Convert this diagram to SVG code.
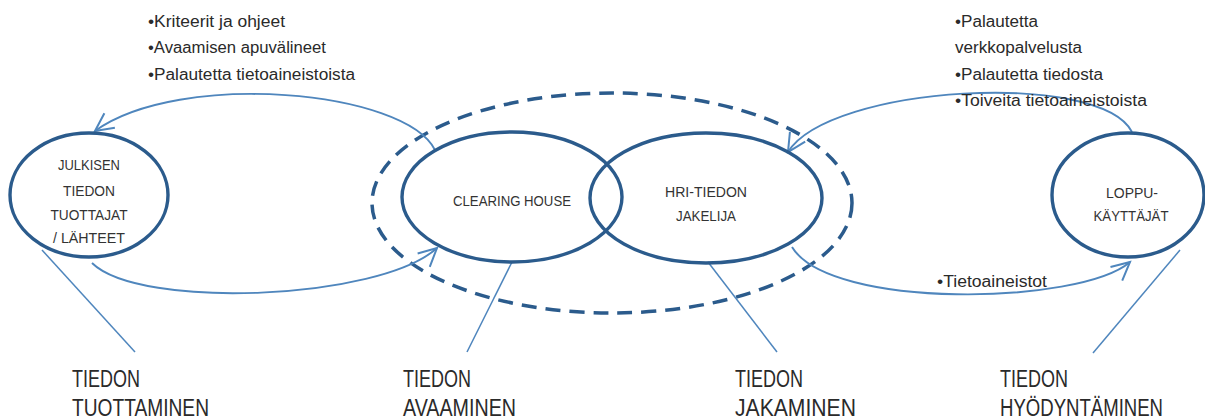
<svg xmlns="http://www.w3.org/2000/svg" width="1205" height="420" viewBox="0 0 1205 420">
<defs>
<style>
.node{fill:#ffffff;stroke:#2b5b8c;stroke-width:3.4}
.open{fill:none}
.dash{fill:none;stroke:#2b5b8c;stroke-width:3.5;stroke-dasharray:15 9}
.conn{fill:none;stroke:#4f86bd;stroke-width:1.9}
.lead{fill:none;stroke:#4f86bd;stroke-width:1.5}
.lbl{font-family:"Liberation Sans",Arial,sans-serif;font-size:15px;fill:#333333;text-anchor:middle}
.bul{font-family:"Liberation Sans",Arial,sans-serif;font-size:16px;fill:#2a2a2a}
.big{font-family:"Liberation Sans",Arial,sans-serif;font-size:23px;fill:#2a2a2a}
</style>
<marker id="arr" markerUnits="userSpaceOnUse" markerWidth="26" markerHeight="24" refX="21" refY="11" orient="auto">
<path d="M3,2 L21,11 L3,20" fill="none" stroke="#4f86bd" stroke-width="2"/>
</marker>
</defs>
<rect width="1205" height="420" fill="#ffffff"/>

<g id="boundary">
<ellipse class="dash" cx="612" cy="203" rx="240" ry="110"/>
</g>

<g id="connectors">
<path class="conn" d="M435,150 C405,90 180,70 95,131" marker-end="url(#arr)"/>
<path class="conn" d="M92,263 C140,310 380,300 437,248" marker-end="url(#arr)"/>
<path class="conn" d="M1132,132 C1100,70 830,85 788,152" marker-end="url(#arr)"/>
<path class="conn" d="M792,247 C830,310 1080,305 1130,262" marker-end="url(#arr)"/>
<line class="lead" x1="42" y1="250" x2="135" y2="352"/>
<line class="lead" x1="512" y1="262" x2="467" y2="352"/>
<line class="lead" x1="708" y1="262" x2="777" y2="352"/>
<line class="lead" x1="1180" y1="250" x2="1093" y2="353"/>
</g>

<g id="producers">
<ellipse class="node" cx="89" cy="195" rx="79" ry="62"/>
<text class="lbl" x="89" y="170" textLength="62" lengthAdjust="spacingAndGlyphs">JULKISEN</text>
<text class="lbl" x="89" y="196" textLength="52" lengthAdjust="spacingAndGlyphs">TIEDON</text>
<text class="lbl" x="89" y="220" textLength="77" lengthAdjust="spacingAndGlyphs">TUOTTAJAT</text>
<text class="lbl" x="89" y="243" textLength="72" lengthAdjust="spacingAndGlyphs">/ LÄHTEET</text>
</g>

<g id="clearing-house">
<ellipse class="node open" cx="512" cy="197" rx="110" ry="65"/>
<text class="lbl" x="512" y="206" textLength="118" lengthAdjust="spacingAndGlyphs">CLEARING HOUSE</text>
</g>

<g id="distributor">
<ellipse class="node open" cx="706" cy="198" rx="116" ry="65"/>
<text class="lbl" x="706" y="197" textLength="82" lengthAdjust="spacingAndGlyphs">HRI-TIEDON</text>
<text class="lbl" x="706" y="221" textLength="60" lengthAdjust="spacingAndGlyphs">JAKELIJA</text>
</g>

<g id="end-users">
<ellipse class="node" cx="1128" cy="195" rx="76" ry="62"/>
<text class="lbl" x="1132" y="198" textLength="52" lengthAdjust="spacingAndGlyphs">LOPPU-</text>
<text class="lbl" x="1131" y="221" textLength="75" lengthAdjust="spacingAndGlyphs">KÄYTTÄJÄT</text>
</g>

<g id="notes-left">
<text class="bul" x="148" y="27" textLength="137" lengthAdjust="spacingAndGlyphs">•Kriteerit ja ohjeet</text>
<text class="bul" x="148" y="53" textLength="178" lengthAdjust="spacingAndGlyphs">•Avaamisen apuvälineet</text>
<text class="bul" x="148" y="80" textLength="207" lengthAdjust="spacingAndGlyphs">•Palautetta tietoaineistoista</text>
</g>

<g id="notes-right">
<text class="bul" x="955" y="27" textLength="83" lengthAdjust="spacingAndGlyphs">•Palautetta</text>
<text class="bul" x="955" y="53" textLength="127" lengthAdjust="spacingAndGlyphs">verkkopalvelusta</text>
<text class="bul" x="955" y="80" textLength="148" lengthAdjust="spacingAndGlyphs">•Palautetta tiedosta</text>
<text class="bul" x="955" y="106" textLength="192" lengthAdjust="spacingAndGlyphs">•Toiveita tietoaineistoista</text>
</g>

<g id="note-bottom">
<text class="bul" x="937" y="287" textLength="110" lengthAdjust="spacingAndGlyphs">•Tietoaineistot</text>
</g>

<g id="phase-labels">
<text class="big" x="72" y="387" textLength="68" lengthAdjust="spacingAndGlyphs">TIEDON</text>
<text class="big" x="72" y="416" textLength="137" lengthAdjust="spacingAndGlyphs">TUOTTAMINEN</text>
<text class="big" x="403" y="387" textLength="68" lengthAdjust="spacingAndGlyphs">TIEDON</text>
<text class="big" x="403" y="416" textLength="113" lengthAdjust="spacingAndGlyphs">AVAAMINEN</text>
<text class="big" x="735" y="387" textLength="68" lengthAdjust="spacingAndGlyphs">TIEDON</text>
<text class="big" x="735" y="416" textLength="121" lengthAdjust="spacingAndGlyphs">JAKAMINEN</text>
<text class="big" x="1000" y="387" textLength="68" lengthAdjust="spacingAndGlyphs">TIEDON</text>
<text class="big" x="1000" y="416" textLength="163" lengthAdjust="spacingAndGlyphs">HYÖDYNTÄMINEN</text>
</g>
</svg>
